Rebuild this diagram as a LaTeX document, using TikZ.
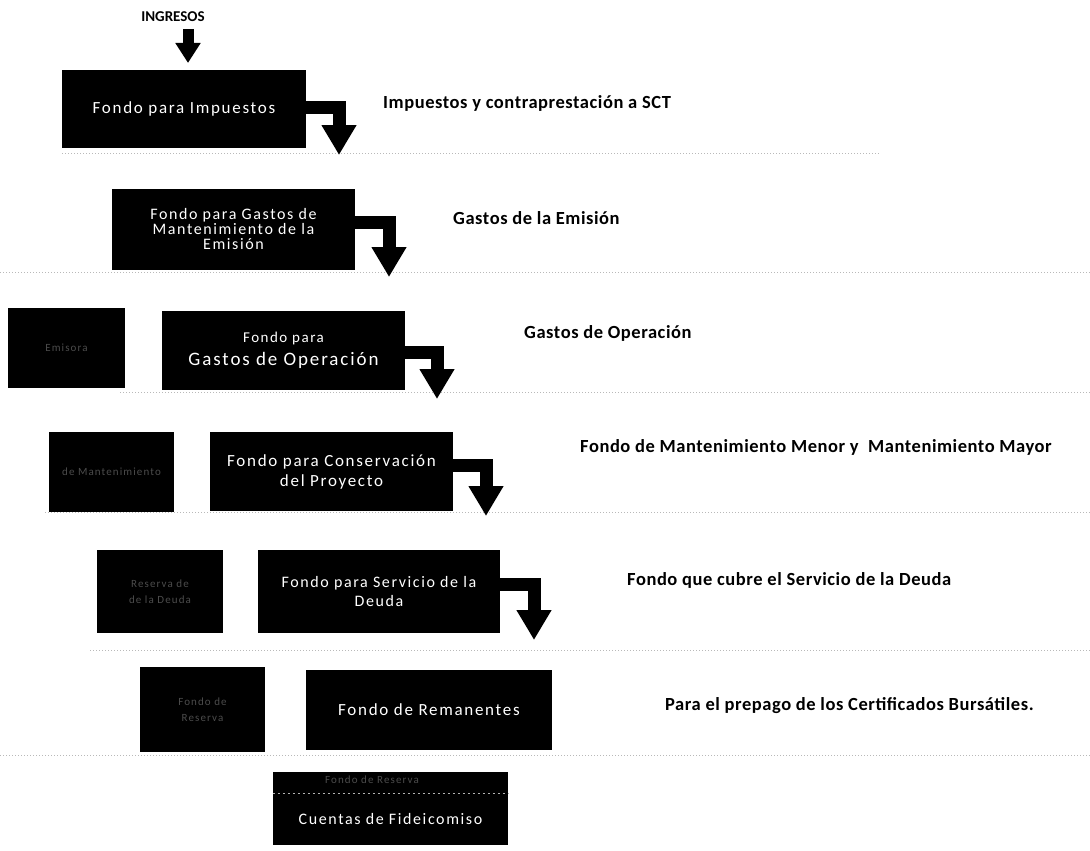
\documentclass[tikz,border=0pt]{standalone}
\usepackage{fontspec}
\setmainfont{Carlito}
\newfontfamily\boxfont[LetterSpace=10]{Carlito}
\newfontfamily\lblfont[LetterSpace=3]{Carlito}
\usetikzlibrary{arrows.meta}
\tikzset{
  fund/.style={fill=black, text=white, align=center, inner sep=2pt},
  side/.style={fill=black, text=white!30!black, align=center, inner sep=2pt,
               font=\boxfont\fontsize{11}{16}\selectfont},
  lbl/.style={anchor=west, inner sep=0pt, font=\lblfont\bfseries\fontsize{18.5}{20}\selectfont},
  sepline/.style={draw=gray!55, line width=0.7pt, dash pattern=on 1.2pt off 1.8pt},
  flow/.style={line width=13pt, -{Triangle[width=33pt,length=30pt]}},
  inflow/.style={line width=11pt, -{Triangle[width=24pt,length=20pt]}}
}
\begin{document}
\begin{tikzpicture}[x=1pt,y=-1pt]
\useasboundingbox (0,0) rectangle (1090,851);

% separators
\draw[sepline] (62,153) -- (880,153);
\draw[sepline] (0,272) -- (1090,272);
\draw[sepline] (120,392) -- (1090,392);
\draw[sepline] (45,512) -- (1090,512);
\draw[sepline] (90,650) -- (1090,650);
\draw[sepline] (0,755) -- (1090,755);

% title and input arrow
\node[inner sep=0pt, font=\bfseries\fontsize{15}{15}\selectfont] (ing) at (173,17) {INGRESOS};
\coordinate (ingend) at (188,63);
\draw[inflow] (188,29) -- (ingend);

% main funds
\node[fund, minimum width=244pt, minimum height=78pt, font=\boxfont\fontsize{17}{19}\selectfont]
  (b1) at (184,109) {Fondo para Impuestos};
\node[fund, minimum width=243pt, minimum height=81pt, font=\boxfont\fontsize{16}{15}\selectfont]
  (b2) at (233.5,229.5) {Fondo para Gastos de\\Mantenimiento de la\\Emisión};
\node[fund, minimum width=243pt, minimum height=79pt]
  (b3) at (283.5,350.5) {{\boxfont\fontsize{15}{16}\selectfont Fondo para}\\[6pt]{\boxfont\fontsize{19}{20}\selectfont Gastos de Operación}};
\node[fund, minimum width=243pt, minimum height=79pt, font=\boxfont\fontsize{17}{20}\selectfont]
  (b4) at (331.5,471.5) {Fondo para Conservación\\del Proyecto};
\node[fund, minimum width=242pt, minimum height=83pt, font=\boxfont\fontsize{16}{19}\selectfont]
  (b5) at (379,591.5) {Fondo para Servicio de la\\Deuda};
\node[fund, minimum width=246pt, minimum height=80pt, font=\boxfont\fontsize{17}{19}\selectfont]
  (b6) at (429,710) {Fondo de Remanentes};

% side boxes (faint text)
\node[side, minimum width=117pt, minimum height=80pt] (s1) at (66.5,348) {Emisora};
\node[side, minimum width=125pt, minimum height=80pt] (s2) at (111.5,472) {de Mantenimiento};
\node[side, minimum width=126pt, minimum height=83pt] (s3) at (160,591.5) {Reserva de\\de la Deuda};
\node[side, minimum width=125pt, minimum height=85pt] (s4) at (202.5,709.5) {Fondo de\\Reserva};

% bottom box
\node[fill=black, minimum width=235pt, minimum height=73pt] (b7) at (390.5,808.5) {};
\node[inner sep=0pt, text=white!30!black, font=\boxfont\fontsize{11}{12}\selectfont] (b7a) at (372,780) {Fondo de Reserva};
\node[inner sep=0pt, text=white, font=\boxfont\fontsize{16}{17}\selectfont] (b7b) at (390.5,819) {Cuentas de Fideicomiso};
\draw[draw=gray!60, line width=0.7pt, dash pattern=on 2pt off 3pt] (b7.west |- 0,793) -- (b7.east |- 0,793);

% bent arrows
\coordinate (t1) at (339,155);
\coordinate (t2) at (389,277);
\coordinate (t3) at (437,399);
\coordinate (t4) at (486,516);
\coordinate (t5) at (534,640);
\draw[flow] (b1.east |- 0,107) -| (t1);
\draw[flow] (b2.east |- 0,222) -| (t2);
\draw[flow] (b3.east |- 0,352) -| (t3);
\draw[flow] (b4.east |- 0,465) -| (t4);
\draw[flow] (b5.east |- 0,584) -| (t5);

% labels
\node[lbl] (l1) at (383,103) {Impuestos y contraprestación a SCT};
\node[lbl] (l2) at (453,218) {Gastos de la Emisión};
\node[lbl] (l3) at (524,333) {Gastos de Operación};
\node[lbl] (l4) at (580,447) {Fondo de Mantenimiento Menor y\ \ Mantenimiento Mayor};
\node[lbl] (l5) at (627,580) {Fondo que cubre el Servicio de la Deuda};
\node[lbl] (l6) at (665,706) {Para el prepago de los Certificados Bursátiles.};
\end{tikzpicture}
\end{document}
